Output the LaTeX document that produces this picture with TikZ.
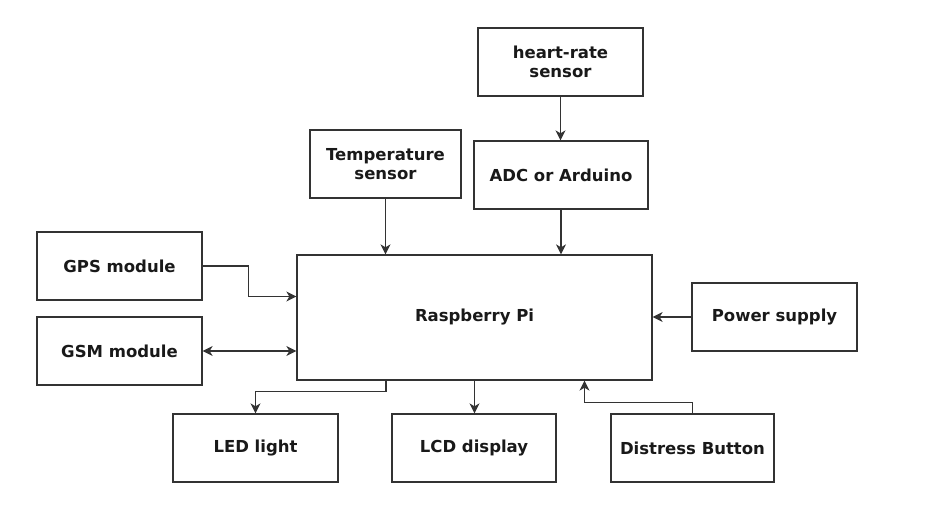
\documentclass[tikz,border=0pt]{standalone}
\usepackage{fontspec}
\setmainfont{DejaVu Sans}
\usepackage{tikz}
\usetikzlibrary{positioning, arrows.meta}

\definecolor{linegray}{HTML}{333333}

\begin{document}
\begin{tikzpicture}[x=1pt, y=-1pt, >={Stealth[length=10pt, width=10pt, inset=3pt]},
    block/.style={draw=linegray, line width=1.3pt, minimum width=165pt, minimum height=68pt,
        align=center, inner sep=2pt, text=black!90, font=\bfseries\fontsize{16.5}{19.5}\selectfont},
    link/.style={draw=linegray, line width=1.2pt}]
            \useasboundingbox (0,0) rectangle (942,516);

            % Blocks
            \node[block, minimum width=355pt, minimum height=125pt] (pi) at (474.5,317.5) {Raspberry Pi};
            \node[block] (heart) at (560.5,62) {heart-rate\\sensor};
            \node[block, minimum width=151pt] (temp) at (385.5,164) {Temperature\\sensor};
            \node[block, minimum width=174pt] (adc) at (561,175) {ADC or Arduino};
            \node[block] (gps) at (119.5,266) {GPS module};
            \node[block] (gsm) at (119.5,351) {GSM module};
            \node[block] (power) at (774.5,317) {Power supply};
            \node[block] (led) at (255.5,448) {LED light};
            \node[block, minimum width=164pt] (lcd) at (474,448) {LCD display};
            \node[block, minimum width=163pt] (distress) at (692.5,448) {Distress Button};

            % Inputs
            \draw[link, ->] (heart.south) -- (heart.south |- adc.north);
            \draw[link, ->] (temp.south) -- (temp.south |- pi.north);
            \draw[link, ->] (adc.south) -- (adc.south |- pi.north);
            \draw[link, ->] (gps.east) -- ++(46,0) |- ([yshift=21pt]pi.west);
            \draw[link, <->] (gsm.east) -- (gsm.east -| pi.west);
            \draw[link, ->] (power.west) -- (power.west -| pi.east);
            \draw[link, ->] (distress.north) -- ++(0,-11) -| ([xshift=110pt]pi.south);

            % Outputs
            \draw[link, ->] ([xshift=-88.5pt]pi.south) -- ++(0,11) -| (led.north);
            \draw[link, ->] (pi.south) -- (pi.south |- lcd.north);
        \end{tikzpicture}
\end{document}
